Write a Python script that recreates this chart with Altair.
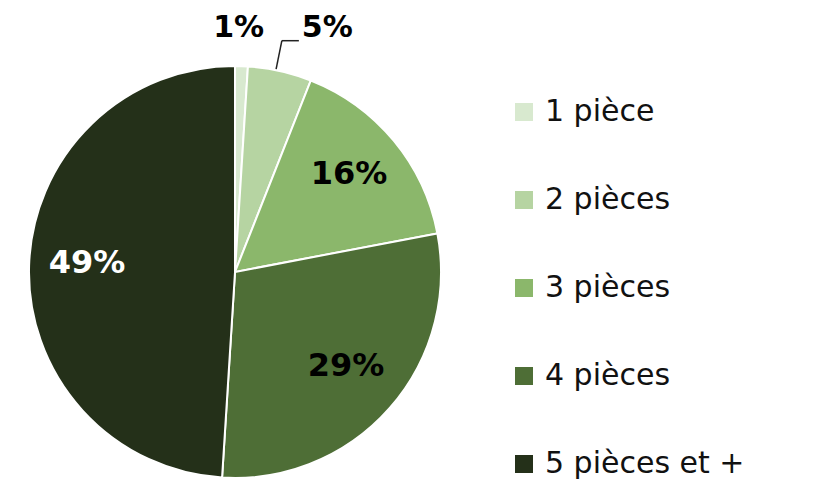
import altair as alt
import pandas as pd

categories = ["1 pièce", "2 pièces", "3 pièces", "4 pièces", "5 pièces et +"]
values = [1, 5, 16, 29, 49]
labels = ["1%", "5%", "16%", "29%", "49%"]
colors = ["#d8e9cf", "#b6d4a2", "#8bb76b", "#4e6e36", "#243019"]

df = pd.DataFrame({"category": categories, "value": values, "label": labels,
                   "idx": list(range(len(categories)))})

CX, CY, R = 227, 264, 206
FONT = "DejaVu Sans"

theta_scale = alt.Scale(domain=[0, 100], range=[0, 6.283185307179586])

base = alt.Chart(df).transform_window(
    cum="sum(value)", sort=[alt.SortField("idx")]
).transform_calculate(
    start="datum.cum - datum.value",
    mid="datum.cum - datum.value / 2",
)

arcs = base.mark_arc(stroke="white", strokeWidth=2, radius=R).encode(
    x=alt.value(CX), y=alt.value(CY),
    theta=alt.Theta("start:Q", stack=None, scale=theta_scale),
    theta2="cum:Q",
    color=alt.Color("category:N", sort=categories,
                    scale=alt.Scale(domain=categories, range=colors),
                    legend=alt.Legend(
                        title=None, orient="none", legendX=501, legendY=89,
                        symbolType="square", symbolSize=324, symbolStrokeWidth=0,
                        labelFont=FONT, labelFontSize=30, labelColor="#111111",
                        labelOffset=6, rowPadding=58, padding=0,
                        labelLimit=400)),
    order=alt.Order("idx:Q"),
)

inside = base.transform_filter("datum.value >= 10").mark_text(
    font=FONT, fontWeight="bold", fontSize=32, radius=148
).encode(
    x=alt.value(CX), y=alt.value(CY - 4),
    theta=alt.Theta("mid:Q", stack=None, scale=theta_scale),
    text="label:N",
    color=alt.condition("datum.value > 40", alt.value("white"), alt.value("black")),
)

small1 = base.transform_filter("datum.idx == 0").mark_text(
    font=FONT, fontWeight="bold", fontSize=30, radius=244, color="black"
).encode(
    x=alt.value(CX - 4), y=alt.value(CY),
    theta=alt.Theta("mid:Q", stack=None, scale=theta_scale),
    text="label:N",
)

lead = base.transform_filter("datum.idx == 1").transform_calculate(
    a="datum.mid / 100 * 2 * PI - 0.02",
).transform_calculate(
    x1=f"{CX} + {R + 1} * sin(datum.a)",
    y1=f"{CY} - {R + 1} * cos(datum.a)",
    x2=f"{CX} + 236 * sin(datum.a)",
    y2=f"{CY} - 236 * cos(datum.a)",
).transform_calculate(
    x3="datum.x2 + 17",
    tx="datum.x2 + 20",
    ty="datum.y2 - 13",
)

lead1 = lead.mark_rule(color="#222222", strokeWidth=1.5).encode(
    x=alt.X("x1:Q", scale=None), y=alt.Y("y1:Q", scale=None),
    x2="x2:Q", y2="y2:Q",
)
lead2 = lead.mark_rule(color="#222222", strokeWidth=1.5).encode(
    x=alt.X("x2:Q", scale=None), y=alt.Y("y2:Q", scale=None),
    x2="x3:Q", y2="y2:Q",
)
small2 = lead.mark_text(
    font=FONT, fontWeight="bold", fontSize=30, align="left", baseline="middle",
    color="black"
).encode(
    x=alt.X("tx:Q", scale=None), y=alt.Y("ty:Q", scale=None),
    text="label:N",
)

chart = alt.layer(arcs, inside, small1, lead1, lead2, small2).properties(
    width=790, height=465, padding=0
).configure_view(stroke=None)

chart.save("out.html", embed_options={"renderer": "svg", "actions": False})
